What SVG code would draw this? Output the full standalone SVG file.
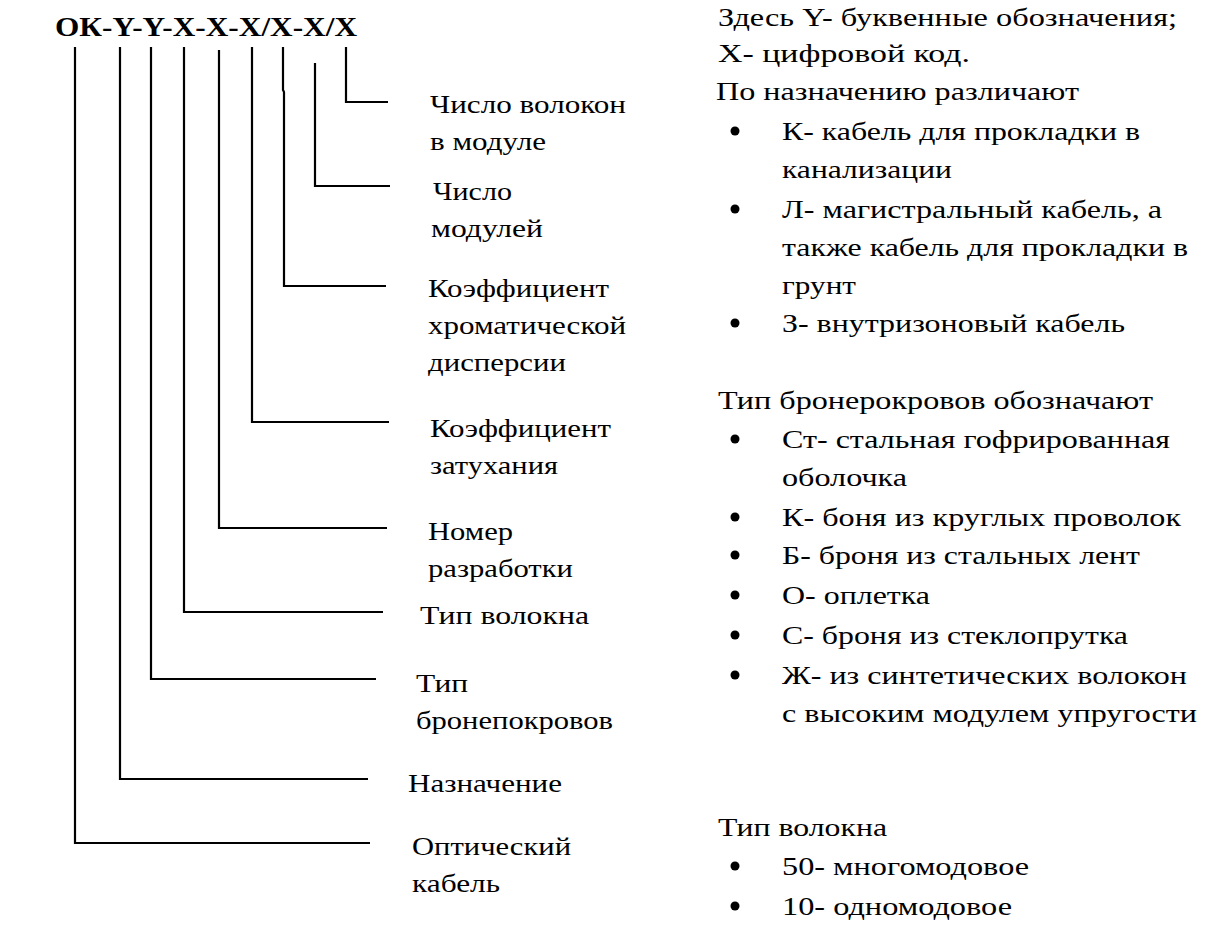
<svg xmlns="http://www.w3.org/2000/svg" width="1217" height="945" viewBox="0 0 1217 945">
<style>
text{font-family:"Liberation Serif","DejaVu Serif","Times New Roman",serif;font-size:26px;fill:#000}
.title{font-weight:bold;font-size:28px}
.ln{fill:none;stroke:#000;stroke-width:2.2}
.b{fill:#000}
</style>
<rect width="1217" height="945" fill="#fff"/>
<g id="title"><text class="title" x="55" y="36" textLength="302" lengthAdjust="spacingAndGlyphs">ОК-Y-Y-X-X-X/X-X/X</text></g>
<g id="connectors">
<polyline class="ln" points="75,47 75,843 370,843"/>
<polyline class="ln" points="120,47 120,779 368,779"/>
<polyline class="ln" points="151,47 151,679 376,679"/>
<polyline class="ln" points="184,47 184,612 383,612"/>
<polyline class="ln" points="219,50 219,528 387,528"/>
<polyline class="ln" points="252,47 252,422 389,422"/>
<polyline class="ln" points="283,47 283,90 284,92 284,286 386,286"/>
<polyline class="ln" points="315,63 315,186 390,186"/>
<polyline class="ln" points="346,47 346,102 388,102"/>
</g>
<g id="n-volokon"><text x="430" y="113" textLength="196" lengthAdjust="spacingAndGlyphs">Число волокон</text><text x="430" y="150" textLength="116" lengthAdjust="spacingAndGlyphs">в модуле</text></g>
<g id="n-moduley"><text x="433" y="200" textLength="79" lengthAdjust="spacingAndGlyphs">Число</text><text x="431" y="237" textLength="112" lengthAdjust="spacingAndGlyphs">модулей</text></g>
<g id="k-disp"><text x="428" y="297" textLength="181" lengthAdjust="spacingAndGlyphs">Коэффициент</text><text x="428" y="334" textLength="198" lengthAdjust="spacingAndGlyphs">хроматической</text><text x="428" y="371" textLength="138" lengthAdjust="spacingAndGlyphs">дисперсии</text></g>
<g id="k-zat"><text x="430" y="437" textLength="181" lengthAdjust="spacingAndGlyphs">Коэффициент</text><text x="430" y="474" textLength="128" lengthAdjust="spacingAndGlyphs">затухания</text></g>
<g id="nomer"><text x="428" y="540" textLength="85" lengthAdjust="spacingAndGlyphs">Номер</text><text x="428" y="577" textLength="145" lengthAdjust="spacingAndGlyphs">разработки</text></g>
<g id="tip-vol"><text x="420" y="624" textLength="169" lengthAdjust="spacingAndGlyphs">Тип волокна</text></g>
<g id="tip-bron"><text x="416" y="692" textLength="52" lengthAdjust="spacingAndGlyphs">Тип</text><text x="416" y="729" textLength="197" lengthAdjust="spacingAndGlyphs">бронепокровов</text></g>
<g id="naznach"><text x="408" y="792" textLength="154" lengthAdjust="spacingAndGlyphs">Назначение</text></g>
<g id="opt"><text x="412" y="855" textLength="159" lengthAdjust="spacingAndGlyphs">Оптический</text><text x="412" y="892" textLength="88" lengthAdjust="spacingAndGlyphs">кабель</text></g>
<g id="legend">
<text x="718" y="26" textLength="459" lengthAdjust="spacingAndGlyphs">Здесь Y- буквенные обозначения;</text>
<text x="718" y="62" textLength="252" lengthAdjust="spacingAndGlyphs">X- цифровой код.</text>
<text x="716" y="100" textLength="363" lengthAdjust="spacingAndGlyphs">По назначению различают</text>
<circle class="b" cx="735" cy="131" r="4.5"/><text x="782" y="140" textLength="358" lengthAdjust="spacingAndGlyphs">К- кабель для прокладки в</text>
<text x="782" y="178" textLength="170" lengthAdjust="spacingAndGlyphs">канализации</text>
<circle class="b" cx="735" cy="209" r="4.5"/><text x="782" y="218" textLength="380" lengthAdjust="spacingAndGlyphs">Л- магистральный кабель, а</text>
<text x="782" y="256" textLength="406" lengthAdjust="spacingAndGlyphs">также кабель для прокладки в</text>
<text x="782" y="294" textLength="74" lengthAdjust="spacingAndGlyphs">грунт</text>
<circle class="b" cx="735" cy="323" r="4.5"/><text x="782" y="332" textLength="343" lengthAdjust="spacingAndGlyphs">З- внутризоновый кабель</text>
<text x="718" y="409" textLength="435" lengthAdjust="spacingAndGlyphs">Тип бронерокровов обозначают</text>
<circle class="b" cx="735" cy="439" r="4.5"/><text x="782" y="448" textLength="388" lengthAdjust="spacingAndGlyphs">Ст- стальная гофрированная</text>
<text x="782" y="486" textLength="125" lengthAdjust="spacingAndGlyphs">оболочка</text>
<circle class="b" cx="735" cy="517" r="4.5"/><text x="782" y="526" textLength="399" lengthAdjust="spacingAndGlyphs">К- боня из круглых проволок</text>
<circle class="b" cx="735" cy="555" r="4.5"/><text x="782" y="564" textLength="358" lengthAdjust="spacingAndGlyphs">Б- броня из стальных лент</text>
<circle class="b" cx="735" cy="595" r="4.5"/><text x="782" y="604" textLength="148" lengthAdjust="spacingAndGlyphs">О- оплетка</text>
<circle class="b" cx="735" cy="635" r="4.5"/><text x="782" y="644" textLength="346" lengthAdjust="spacingAndGlyphs">С- броня из стеклопрутка</text>
<circle class="b" cx="735" cy="675" r="4.5"/><text x="782" y="684" textLength="405" lengthAdjust="spacingAndGlyphs">Ж- из синтетических волокон</text>
<text x="782" y="722" textLength="415" lengthAdjust="spacingAndGlyphs">с высоким модулем упругости</text>
<text x="718" y="836" textLength="169" lengthAdjust="spacingAndGlyphs">Тип волокна</text>
<circle class="b" cx="735" cy="866" r="4.5"/><text x="782" y="875" textLength="247" lengthAdjust="spacingAndGlyphs">50- многомодовое</text>
<circle class="b" cx="735" cy="906" r="4.5"/><text x="782" y="915" textLength="230" lengthAdjust="spacingAndGlyphs">10- одномодовое</text>
</g>
</svg>
